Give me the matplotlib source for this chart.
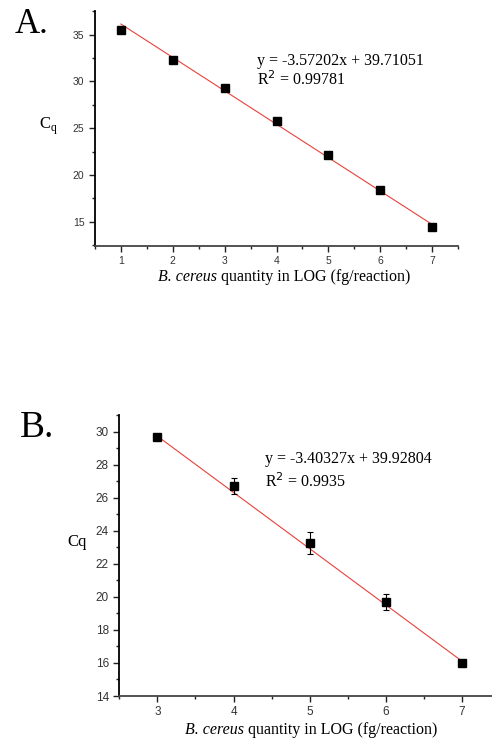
import matplotlib.pyplot as plt
from matplotlib.ticker import MultipleLocator

# panel A data
xa = [1, 2, 3, 4, 5, 6, 7]
ya = [35.53, 32.33, 29.33, 25.73, 22.12, 18.42, 14.47]
ea = [0.1, 0.3, 0.1, 0.15, 0.1, 0.15, 0.1]
slope_a, icpt_a = -3.57202, 39.71051

# panel B data
xb = [3, 4, 5, 6, 7]
yb = [29.66, 26.69, 23.27, 19.68, 16.0]
eb = [0.12, 0.48, 0.65, 0.47, 0.15]
slope_b, icpt_b = -3.40327, 39.92804

serif = 'Liberation Serif'
sans = 'Liberation Sans'

fig = plt.figure(figsize=(4.92, 7.38), dpi=100)


def style(ax):
    for s in ['top', 'right']:
        ax.spines[s].set_visible(False)
    ax.spines['left'].set_linewidth(1.3)
    ax.spines['bottom'].set_linewidth(1.3)
    ax.spines['bottom'].set_color('#444444')
    ax.tick_params(which='major', direction='out', length=4, width=1, labelsize=7.5,
                   labelcolor='#333333', color='#222222')
    ax.tick_params(which='minor', direction='out', length=2.5, width=1, color='#222222')
    for lbl in ax.get_xticklabels() + ax.get_yticklabels():
        lbl.set_fontfamily(sans)


def panel(ax, x, y, e, m, b):
    fx = [x[0], x[-1]]
    ax.plot(fx, [m * v + b for v in fx], color='#e8413c', lw=0.8, zorder=2)
    ax.errorbar(x, y, yerr=e, fmt='s', color='black', ms=5.5, elinewidth=0.8,
                capsize=2.5, capthick=0.8, zorder=3)


def xlabel(x0, y0):
    # italic species name followed by regular text
    t = fig.text(x0, y0, 'B. cereus', family=serif, fontsize=11.5, style='italic', va='center')
    fig.canvas.draw()
    bb = t.get_window_extent().transformed(fig.transFigure.inverted())
    fig.text(bb.x1 + 0.008, y0, 'quantity in LOG (fg/reaction)', family=serif,
             fontsize=11.5, va='center')


# ---- A ----
ax1 = fig.add_axes([0.193, 0.6667, 0.738, 0.318])
panel(ax1, xa, ya, ea, slope_a, icpt_a)
ax1.set_xlim(0.5, 7.5)
ax1.set_ylim(12.4, 37.5)
ax1.xaxis.set_major_locator(MultipleLocator(1))
ax1.xaxis.set_minor_locator(MultipleLocator(0.5))
ax1.yaxis.set_major_locator(MultipleLocator(5))
ax1.yaxis.set_minor_locator(MultipleLocator(2.5))
style(ax1)
ax1.text(0.446, 0.79, 'y = -3.57202x + 39.71051', transform=ax1.transAxes,
         family=serif, fontsize=11.5, va='center')
ax1.text(0.446, 0.71, r'R$^2$ = 0.99781', transform=ax1.transAxes,
         family=serif, fontsize=11.5, va='center')
fig.text(0.03, 0.967, 'A.', family=serif, fontsize=25, va='center')
fig.text(0.08, 0.829, r'C$_\mathregular{q}$', family=serif, fontsize=12, va='center')
xlabel(0.321, 0.624)

# ---- B ----
ax2 = fig.add_axes([0.2425, 0.0569, 0.774, 0.3808])
panel(ax2, xb, yb, eb, slope_b, icpt_b)
ax2.set_xlim(2.5, 7.5)
ax2.set_ylim(14, 31)
ax2.xaxis.set_major_locator(MultipleLocator(1))
ax2.xaxis.set_minor_locator(MultipleLocator(0.5))
ax2.yaxis.set_major_locator(MultipleLocator(2))
ax2.yaxis.set_minor_locator(MultipleLocator(1))
style(ax2)
ax2.tick_params(which='major', labelsize=8.5)
ax2.text(0.383, 0.843, 'y = -3.40327x + 39.92804', transform=ax2.transAxes,
         family=serif, fontsize=11.5, va='center')
ax2.text(0.383, 0.763, r'R$^2$ = 0.9935', transform=ax2.transAxes,
         family=serif, fontsize=11.5, va='center')
fig.text(0.04, 0.42, 'B.', family=serif, fontsize=27, va='center')
fig.text(0.136, 0.266, 'Cq', family=serif, fontsize=12, va='center')
xlabel(0.376, 0.011)

fig.savefig('out.png', dpi=100)
